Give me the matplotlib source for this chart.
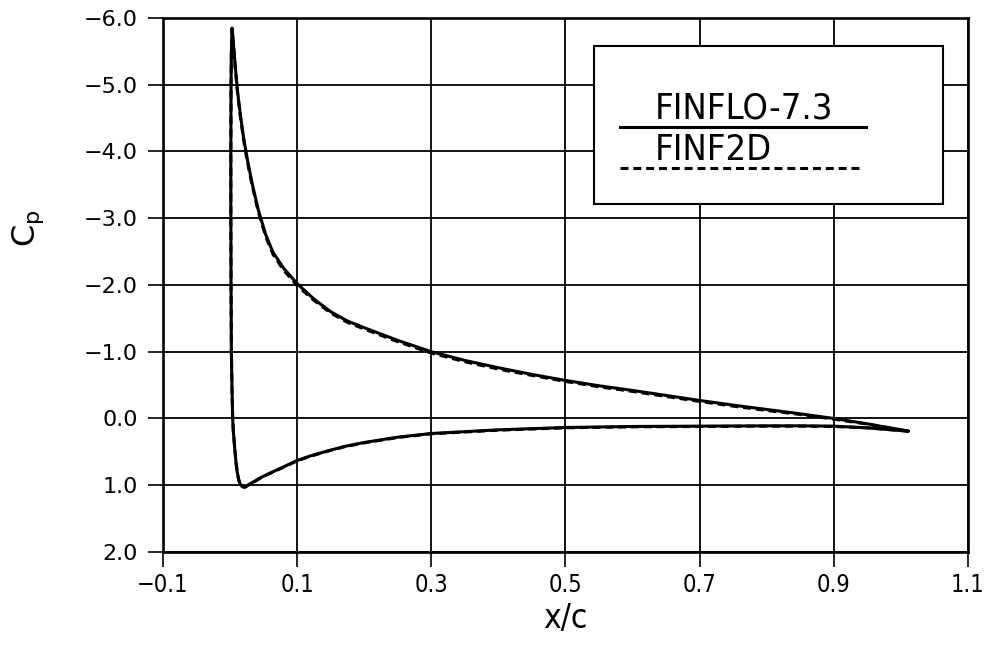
import matplotlib
matplotlib.use("Agg")
import matplotlib.pyplot as plt
from matplotlib.patches import Rectangle
from matplotlib.lines import Line2D
from matplotlib.ticker import FuncFormatter

# Cp along the surface: lower side from trailing edge to leading edge,
# then upper side back to the trailing edge
x_finflo = [1.011, 0.95, 0.90, 0.85, 0.80, 0.70, 0.60, 0.50, 0.40, 0.30,
            0.25, 0.20, 0.17, 0.144, 0.12, 0.10, 0.085, 0.07, 0.055, 0.045,
            0.035, 0.028, 0.022, 0.018, 0.015, 0.013, 0.011, 0.009, 0.007, 0.005,
            0.004, 0.003, 0.002, 0.0015, 0.0012, 0.0012, 0.0015, 0.002,
            0.003, 0.005, 0.008, 0.011, 0.015, 0.020, 0.026, 0.033, 0.042, 0.053,
            0.064, 0.08, 0.10, 0.125, 0.15, 0.175, 0.20, 0.25, 0.30, 0.35,
            0.40, 0.45, 0.50, 0.55, 0.60, 0.65, 0.70, 0.75, 0.80, 0.85,
            0.90, 0.95, 1.011]
cp_finflo = [0.19, 0.14, 0.115, 0.11, 0.11, 0.115, 0.12, 0.135, 0.17, 0.225,
             0.28, 0.36, 0.42, 0.49, 0.56, 0.63, 0.70, 0.77, 0.84, 0.89,
             0.95, 0.99, 1.03, 1.02, 0.98, 0.92, 0.82, 0.67, 0.45, 0.20,
             0.02, -0.40, -1.00, -2.00, -3.00, -4.00, -5.00, -5.50,
             -5.85, -5.62, -5.25, -4.92, -4.58, -4.22, -3.87, -3.52, -3.13, -2.76,
             -2.49, -2.25, -2.02, -1.79, -1.60, -1.46, -1.36, -1.17, -1.00, -0.87,
             -0.76, -0.66, -0.57, -0.49, -0.42, -0.345, -0.27, -0.20, -0.135, -0.07,
             0.00, 0.08, 0.19]

x_finf2d = x_finflo
cp_finf2d = [0.19, 0.14, 0.12, 0.115, 0.115, 0.12, 0.125, 0.14, 0.175, 0.23,
             0.285, 0.365, 0.425, 0.495, 0.565, 0.635, 0.705, 0.775, 0.845, 0.895,
             0.955, 0.995, 1.03, 1.02, 0.98, 0.92, 0.82, 0.67, 0.45, 0.20,
             0.02, -0.40, -1.00, -2.00, -3.00, -4.00, -5.00, -5.50,
             -5.84, -5.60, -5.22, -4.89, -4.55, -4.19, -3.84, -3.49, -3.10, -2.73,
             -2.46, -2.22, -1.99, -1.77, -1.58, -1.44, -1.34, -1.15, -0.98, -0.85,
             -0.74, -0.645, -0.555, -0.475, -0.405, -0.33, -0.255, -0.185, -0.12, -0.06,
             0.01, 0.085, 0.19]

labels = ["FINFLO-7.3", "FINF2D"]
x_ticks = [-0.1, 0.1, 0.3, 0.5, 0.7, 0.9, 1.1]
y_ticks = [-6.0, -5.0, -4.0, -3.0, -2.0, -1.0, 0.0, 1.0, 2.0]

narrow = dict(family="DejaVu Sans", stretch="condensed")

fig = plt.figure(figsize=(9.93, 6.54), dpi=100)
ax = fig.add_axes([0.1641, 0.156, 0.8107, 0.8165])

ax.plot(x_finf2d, cp_finf2d, color="black", lw=2.2, linestyle=(0, (2.6, 1.6)), zorder=3)
ax.plot(x_finflo, cp_finflo, color="black", lw=2.2, solid_capstyle="round",
        solid_joinstyle="round", zorder=4)

ax.set_xlim(-0.1, 1.1)
ax.set_ylim(2.0, -6.0)
ax.set_xticks(x_ticks)
ax.set_yticks(y_ticks)


def fmt(v, pos):
    if abs(v) < 1e-9:
        v = 0.0
    return f"{v:.1f}".replace("-", "\u2212")


ax.xaxis.set_major_formatter(FuncFormatter(fmt))
ax.yaxis.set_major_formatter(FuncFormatter(fmt))

ax.grid(True, color="black", lw=1.3, zorder=1)
for s in ax.spines.values():
    s.set_linewidth(1.9)

ax.tick_params(axis="both", direction="out", length=11, width=1.2, color="black")
ax.tick_params(axis="y", pad=7, labelsize=16)
ax.tick_params(axis="x", pad=4, labelsize=17)
for t in ax.get_xticklabels():
    t.set_family("DejaVu Sans")
    t.set_stretch("condensed")

ax.set_xlabel("x/c", fontsize=24, labelpad=4, **narrow)
ax.set_ylabel("C$_\\mathrm{p}$", fontsize=23, rotation=90)
ax.yaxis.set_label_coords(-0.145, 0.607)

# legend box drawn by hand: label above each line sample
box = Rectangle((0.5354, 0.6517), 0.4335, 0.2959, transform=ax.transAxes,
                facecolor="white", edgecolor="black", lw=1.5, zorder=5)
ax.add_patch(box)
ax.text(0.611, 0.8127, labels[0], transform=ax.transAxes, fontsize=26,
        va="baseline", ha="left", zorder=6, **narrow)
ax.add_line(Line2D([0.5677, 0.8733], [0.7959, 0.7959], transform=ax.transAxes,
                   color="black", lw=2.2, zorder=6))
ax.text(0.611, 0.7341, labels[1], transform=ax.transAxes, fontsize=26,
        va="baseline", ha="left", zorder=6, **narrow)
ax.add_line(Line2D([0.5677, 0.8658], [0.7191, 0.7191], transform=ax.transAxes,
                   color="black", lw=2.2, linestyle=(0, (2.6, 1.6)), zorder=6))

fig.savefig("out.png", dpi=100)
